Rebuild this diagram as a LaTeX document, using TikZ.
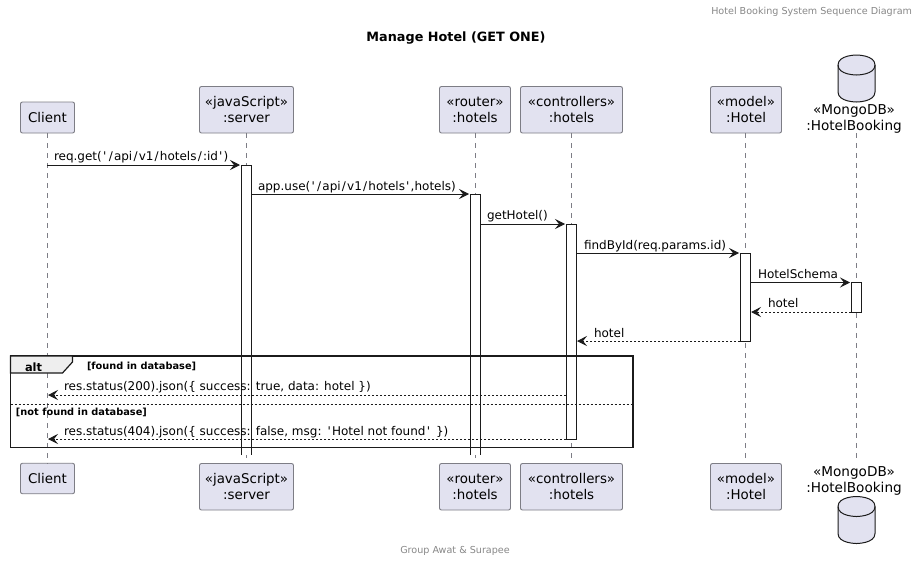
\documentclass[tikz,border=0pt]{standalone}
\usepackage{fontspec}
\newfontfamily\uif{DejaVu Sans}
\usetikzlibrary{arrows.meta}
\definecolor{pfill}{HTML}{E2E2F0}
\definecolor{pline}{HTML}{7D7D85}
\definecolor{ink}{HTML}{1B1B1B}
\definecolor{tabfill}{HTML}{EEEEEE}
\definecolor{greytext}{HTML}{888888}
\newcommand{\Cyl}[1]{%
  \draw[fill=pfill,draw=ink,line width=1pt,shift={(0,#1)}]
    (838,10) .. controls (838,0) and (856.5,0) .. (856.5,0)
    .. controls (856.5,0) and (875,0) .. (875,10) -- (875,37)
    .. controls (875,47) and (856.5,47) .. (856.5,47)
    .. controls (856.5,47) and (838,47) .. (838,37) -- cycle;
  \draw[draw=ink,line width=1pt,shift={(0,#1)}]
    (838,10) .. controls (838,20) and (856.5,20) .. (856.5,20)
    .. controls (856.5,20) and (875,20) .. (875,10);}
\newcommand{\sla}{\kern1.2pt/\kern1.2pt}
\newcommand{\apo}{\kern1.2pt'\kern1.2pt}
\tikzset{
  x=1pt,y=-1pt,
  every node/.style={inner sep=0pt,outer sep=0pt,text=black},
  part/.style={draw=pline,fill=pfill,line width=.9pt,rounded corners=2pt,align=center,font=\uif\fontsize{13.4}{16}\selectfont},
  dbtext/.style={align=center,font=\uif\fontsize{13.6}{16}\selectfont},
  life/.style={draw=pline,line width=.7pt,dash pattern=on 5pt off 5pt},
  act/.style={fill=white,minimum width=10pt,draw=ink,line width=.9pt},
  actopen/.style={fill=white,minimum width=10pt},
  msg/.style={draw=ink,line width=.9pt,-{Stealth[length=10pt,width=10pt,inset=4pt]},shorten >=1pt},
  ret/.style={msg,dash pattern=on 2pt off 2pt},
  lab/.style={anchor=base west,font=\uif\fontsize{12.0}{15}\selectfont},
  fr/.style={anchor=base west,font=\uif\bfseries\fontsize{9.8}{12}\selectfont},
}
\begin{document}
\begin{tikzpicture}
\useasboundingbox (0,0) rectangle (918,562);
\fill[white] (0,0) rectangle (918,562);
\node[anchor=base east,text=greytext,font=\uif\fontsize{9.6}{12}\selectfont] (header) at (912,14) {Hotel Booking System Sequence Diagram};
\node[anchor=base,font=\uif\bfseries\fontsize{12.8}{16}\selectfont] (title) at (456,41) {Manage Hotel (GET ONE)};
\node[anchor=base,text=greytext,font=\uif\fontsize{9.6}{12}\selectfont] (footer) at (455,553) {Group Awat \& Surapee};
% participants
\node[part,minimum width=54pt,minimum height=31pt] (cT) at (47.5,117.5) {Client};
\node[part,minimum width=94pt,minimum height=46.5pt] (sT) at (246.5,109.75) {«javaScript»\\:server};
\node[part,minimum width=71pt,minimum height=46.5pt] (rT) at (475,109.75) {«router»\\:hotels};
\node[part,minimum width=102pt,minimum height=46.5pt] (kT) at (571.5,109.75) {«controllers»\\:hotels};
\node[part,minimum width=71pt,minimum height=46.5pt] (mT) at (746,109.75) {«model»\\:Hotel};
\node[part,minimum width=54pt,minimum height=30.5pt] (cB) at (47.5,478.5) {Client};
\node[part,minimum width=94pt,minimum height=46.5pt] (sB) at (246.5,486.75) {«javaScript»\\:server};
\node[part,minimum width=71pt,minimum height=46.5pt] (rB) at (475,486.75) {«router»\\:hotels};
\node[part,minimum width=102pt,minimum height=46.5pt] (kB) at (571.5,486.75) {«controllers»\\:hotels};
\node[part,minimum width=71pt,minimum height=46.5pt] (mB) at (746,486.75) {«model»\\:Hotel};
\Cyl{55}
\Cyl{496.5}
\node[dbtext] (dT) at (854,118.5) {«MongoDB»\\:HotelBooking};
\node[dbtext] (dB) at (854,481) {«MongoDB»\\:HotelBooking};
\coordinate (dTa) at (856.5,133);
\coordinate (dBa) at (856.5,460);
% lifelines
\draw[life] (cT.south) -- (cB.north);
\draw[life] (sT.south) -- (sB.north);
\draw[life] (rT.south) -- (rB.north);
\draw[life] (kT.south) -- (kB.north);
\draw[life] (mT.south-|745,0) -- (mB.north-|745,0);
\draw[life] (dTa) -- (dBa);
% activations
\node[actopen,minimum height=290pt] (aS) at (246,310) {};
\node[actopen,minimum height=261pt] (aR) at (475,324.5) {};
\node[act,minimum height=215pt] (aK) at (571,331.5) {};
\node[act,minimum height=88pt] (aM) at (745,297) {};
\node[act,minimum height=29.5pt] (aD) at (856,297.25) {};
\draw[ink,line width=.9pt] (aS.south west) -- (aS.north west) -- (aS.north east) -- (aS.south east);
\draw[ink,line width=.9pt] (aR.south west) -- (aR.north west) -- (aR.north east) -- (aR.south east);
% messages
\coordinate (cA) at (47,165);
\coordinate (cR1) at (47,395);
\coordinate (cR2) at (47,439);
\draw[msg] (cA) -- (aS.north west);
\draw[msg] (aS.east|-aR.north) -- (aR.north west);
\draw[msg] (aR.east|-aK.north) -- (aK.north west);
\draw[msg] (aK.east|-aM.north) -- (aM.north west);
\draw[msg] (aM.east|-aD.north) -- (aD.north west);
\draw[ret] (aD.south west) -- (aM.east|-aD.south);
\draw[ret] (aM.south west) -- (aK.east|-aM.south);
\draw[ret] (aK.west|-cR1) -- (cR1);
\draw[ret] (aK.south west) -- (cR2);
\node[lab] (l1) at (54,160) {req.get(\apo\sla api\sla v1\sla hotels\sla:id\apo)};
\node[lab] (l2) at (258,190) {app.use(\apo\sla api\sla v1\sla hotels\apo,hotels)};
\node[lab] (l3) at (487,219) {getHotel()};
\node[lab] (l4) at (584,249) {findById(req.params.id)};
\node[lab] (l5) at (758,278) {HotelSchema};
\node[lab] (l6) at (768,307) {hotel};
\node[lab] (l7) at (594,337) {hotel};
\node[lab] (l8) at (64,390) {res.status(200).json(\{ success: true, data: hotel \})};
\node[lab] (l9) at (64,435) {res.status(404).json(\{ success: false, msg:\kern1pt\ \apo Hotel not found\apo\kern1pt\ \})};
% alt frame
\draw[ink,line width=1.7pt] (10.5,356) rectangle (633,447.5);
\draw[ink,fill=tabfill,line width=1.2pt] (10.5,356) -- (72.5,356) -- (72.5,362) -- (62.5,373) -- (10.5,373) -- cycle;
\draw[ink,line width=.8pt,dash pattern=on 2pt off 2pt] (10.5,404) -- (633,404);
\node[fr,font=\uif\bfseries\fontsize{11.4}{15}\selectfont] (alt) at (25,371) {alt};
\node[fr] (g1) at (87,369) {[found in database]};
\node[fr] (g2) at (16,415) {[not found in database]};
\end{tikzpicture}
\end{document}
